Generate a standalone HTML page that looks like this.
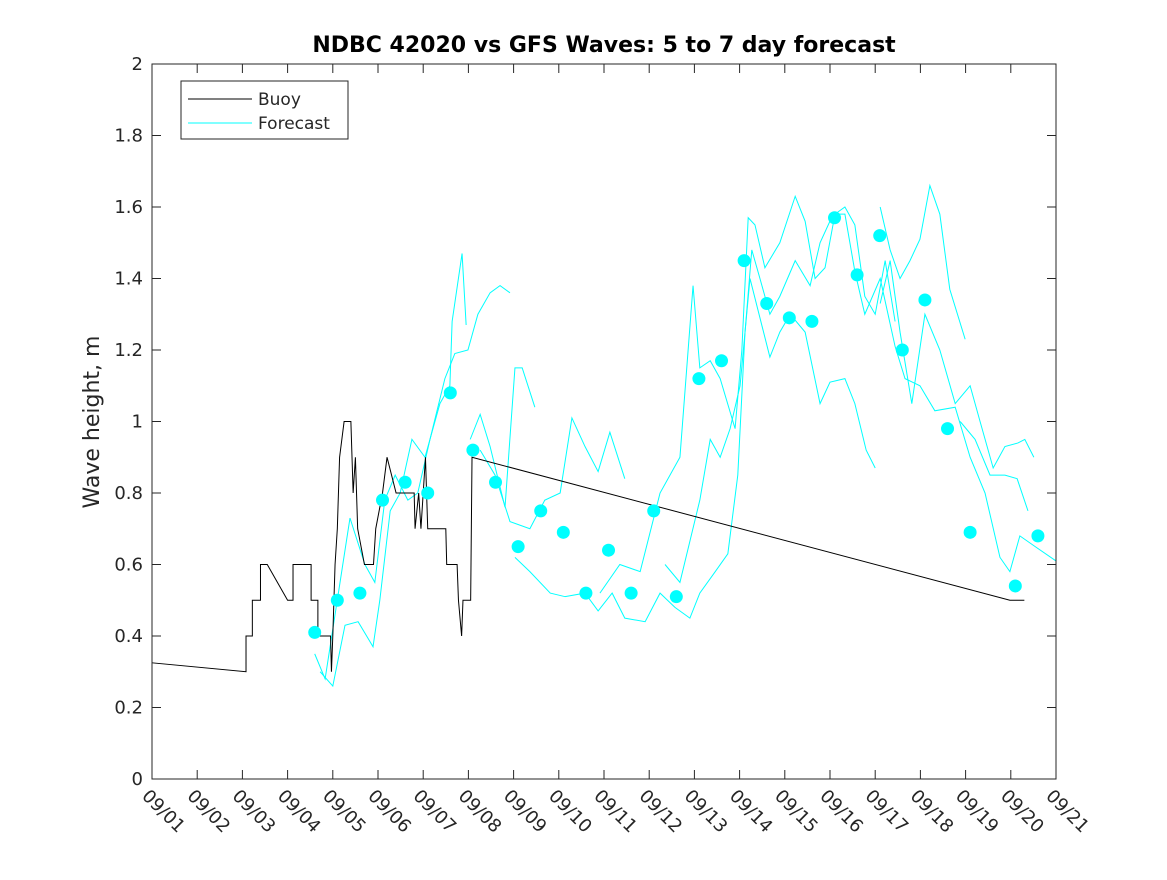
<!DOCTYPE html>
<html><head><meta charset="utf-8"><style>
body{margin:0;background:#fff;}
svg text{font-family:"DejaVu Sans","Liberation Sans",sans-serif;fill:#262626;}
</style></head><body>
<svg id="chart" width="1167" height="875" viewBox="0 0 1167 875" xmlns="http://www.w3.org/2000/svg">
<rect width="1167" height="875" fill="#fff"/>
<text x="604" y="52" text-anchor="middle" font-size="22" font-weight="bold" style="fill:#000">NDBC 42020 vs GFS Waves: 5 to 7 day forecast</text>
<text transform="translate(99,422) rotate(-90)" text-anchor="middle" font-size="22">Wave height, m</text>
<g id="axes"></g>
<g id="marks"></g>
<rect x="152" y="64" width="904" height="715" fill="none" stroke="#262626" stroke-width="1"/>
<g>
<rect x="181" y="81" width="167" height="58" fill="#fff" stroke="#262626" stroke-width="1"/>
<line x1="188" y1="99" x2="252" y2="99" stroke="#000"/>
<text x="258" y="105" font-size="17">Buoy</text>
<line x1="188" y1="123" x2="252" y2="123" stroke="#00ffff"/>
<text x="258" y="129" font-size="17">Forecast</text>
</g>
</svg>
<script>
const xTickLabels=["09/01","09/02","09/03","09/04","09/05","09/06","09/07","09/08","09/09","09/10","09/11","09/12","09/13","09/14","09/15","09/16","09/17","09/18","09/19","09/20","09/21"];
const yTicks=[0,0.2,0.4,0.6,0.8,1,1.2,1.4,1.6,1.8,2];
const buoyDays=[0,2.08,2.08,2.22,2.22,2.4,2.4,2.55,3.0,3.12,3.12,3.52,3.52,3.67,3.67,3.95,3.97,4.0,4.05,4.1,4.15,4.25,4.4,4.45,4.5,4.55,4.7,4.9,4.95,5.1,5.2,5.4,5.8,5.82,5.9,5.95,6.05,6.1,6.5,6.52,6.75,6.78,6.85,6.88,7.05,7.08,18.98,19.3];
const buoyVals=[0.325,0.30,0.4,0.4,0.5,0.5,0.6,0.6,0.5,0.5,0.6,0.6,0.5,0.5,0.4,0.4,0.3,0.4,0.6,0.7,0.9,1.0,1.0,0.8,0.9,0.7,0.6,0.6,0.7,0.8,0.9,0.8,0.8,0.7,0.8,0.7,0.9,0.7,0.7,0.6,0.6,0.5,0.4,0.5,0.5,0.9,0.5,0.5];
const dotStartDay=3.6;
const dotVals=[0.41,0.50,0.52,0.78,0.83,0.80,1.08,0.92,0.83,0.65,0.75,0.69,0.52,0.64,0.52,0.75,0.51,1.12,1.17,1.45,1.33,1.29,1.28,1.57,1.41,1.52,1.20,1.34,0.98,0.69,null,0.54,0.68];
const fc1=[[3.72,0.30],[4.0,0.26],[4.27,0.43],[4.56,0.44],[4.89,0.37],[5.04,0.50],[5.27,0.75],[5.49,0.80],[5.75,0.95],[6.04,0.90],[6.37,1.05],[6.59,1.10],[6.64,1.28],[6.86,1.47],[6.95,1.27]];
const fc2=[[3.6,0.35],[3.83,0.28],[4.16,0.55],[4.38,0.73],[4.71,0.60],[4.93,0.55],[5.15,0.78],[5.38,0.85],[5.66,0.78],[5.88,0.80],[6.15,0.95],[6.48,1.12],[6.7,1.19],[6.99,1.20],[7.21,1.30],[7.48,1.36],[7.7,1.38],[7.92,1.36]];
const fc3=[[7.04,0.95],[7.26,1.02],[7.48,0.93],[7.81,0.76],[8.03,1.15],[8.19,1.15],[8.47,1.04]];
const fc4=[[7.26,0.92],[7.59,0.85],[7.92,0.72],[8.36,0.70],[8.69,0.78],[9.03,0.80],[9.29,1.01],[9.58,0.93],[9.87,0.86],[10.13,0.97],[10.46,0.84]];
const fc5=[[8.03,0.62],[8.36,0.58],[8.81,0.52],[9.14,0.51],[9.58,0.52],[9.87,0.47],[10.18,0.52],[10.46,0.45],[10.91,0.44],[11.24,0.52],[11.57,0.48],[11.9,0.45],[12.12,0.52],[12.46,0.58],[12.74,0.63],[12.96,0.85],[13.12,1.25],[13.27,1.48],[13.45,1.40],[13.67,1.30],[13.89,1.35],[14.23,1.45],[14.56,1.38],[14.78,1.50],[15.07,1.58],[15.33,1.58],[15.55,1.42],[15.77,1.30],[16.11,1.40],[16.44,1.21],[16.66,1.12],[16.99,1.10],[17.32,1.03],[17.77,1.04],[18.1,0.90],[18.43,0.80],[18.76,0.62],[18.98,0.58],[19.2,0.68],[19.54,0.65],[20,0.61]];
const fc6=[[9.91,0.52],[10.35,0.60],[10.8,0.58],[11.24,0.80],[11.68,0.90],[11.97,1.38],[12.12,1.15],[12.35,1.17],[12.57,1.12],[12.9,0.98],[13.05,1.20],[13.19,1.57],[13.34,1.55],[13.56,1.43],[13.89,1.50],[14.23,1.63],[14.45,1.56],[14.67,1.40],[14.89,1.43],[15.11,1.58],[15.33,1.60],[15.55,1.55],[15.77,1.35],[16.0,1.30],[16.22,1.45],[16.44,1.28]];
const fc7=[[16.11,1.60],[16.33,1.48],[16.55,1.40],[16.77,1.45],[16.99,1.51],[17.21,1.66],[17.43,1.58],[17.65,1.37],[17.99,1.23]];
const fc8=[[11.35,0.60],[11.68,0.55],[12.12,0.78],[12.35,0.95],[12.57,0.90],[12.79,0.98],[13.01,1.10],[13.23,1.40],[13.67,1.18],[13.89,1.25],[14.12,1.30],[14.45,1.25],[14.78,1.05],[15.0,1.11],[15.33,1.12],[15.55,1.05],[15.8,0.92],[16.0,0.87]];
const fc9=[[16.11,1.33],[16.33,1.45],[16.55,1.25],[16.81,1.05],[17.1,1.30],[17.43,1.20],[17.77,1.05],[18.1,1.10],[18.32,1.00],[18.61,0.87],[18.87,0.93],[19.16,0.94],[19.31,0.95],[19.51,0.90]];
const fc10=[[17.88,1.00],[18.21,0.95],[18.54,0.85],[18.87,0.85],[19.14,0.84],[19.38,0.75]];

const NS="http://www.w3.org/2000/svg";
const X0=152,X1=1056,Y0=779,Y1=64;
function xs(d){return X0+(X1-X0)*d/20;}
function ys(v){return Y0-(Y0-Y1)*v/2;}
function mk(t,a,p){const e=document.createElementNS(NS,t);for(const k in a)e.setAttribute(k,a[k]);p.appendChild(e);return e;}
const axes=document.getElementById('axes'),marks=document.getElementById('marks');
xTickLabels.forEach((lab,i)=>{
  const x=xs(i);
  const t=mk('line',{x1:x,y1:Y0,x2:x,y2:Y0-9,stroke:'#262626'},axes);
  
  
  const t2=mk('line',{x1:x,y1:Y1,x2:x,y2:Y1+9,stroke:'#262626'},axes);
  
  
  const tx=mk('text',{transform:`translate(${x-11},${Y0+18}) rotate(45)`,'font-size':18},axes);
  tx.textContent=lab;
  
  
});
yTicks.forEach(v=>{
  const y=ys(v);
  const t=mk('line',{x1:X0,y1:y,x2:X0+9,y2:y,stroke:'#262626'},axes);
  
  
  const t2=mk('line',{x1:X1,y1:y,x2:X1-9,y2:y,stroke:'#262626'},axes);
  
  
  const tx=mk('text',{x:X0-9,y:y+6,'text-anchor':'end','font-size':18},axes);
  tx.textContent=String(v);
  
  
});
[fc1,fc2,fc3,fc4,fc5,fc6,fc7,fc8,fc9,fc10].forEach(s=>{
  const p=mk('polyline',{points:s.map(q=>xs(q[0])+','+ys(q[1])).join(' '),fill:'none',stroke:'#00ffff','stroke-width':1},marks);
  
  
});
const bp=mk('polyline',{points:buoyDays.map((d,i)=>xs(d)+','+ys(buoyVals[i])).join(' '),fill:'none',stroke:'#000','stroke-width':1},marks);


dotVals.forEach((v,i)=>{
  if(v===null)return;
  const c=mk('circle',{cx:xs(dotStartDay+0.5*i),cy:ys(v),r:6.5,fill:'#00ffff'},marks);
  
  
});
</script>
</body></html>
